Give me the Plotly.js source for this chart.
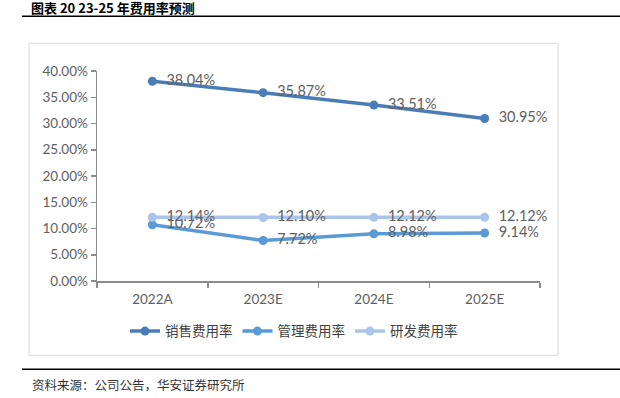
<!DOCTYPE html>
<html>
<head>
<meta charset="utf-8">
<script src="https://cdn.plot.ly/plotly-3.0.1.min.js"></script>
<style>html,body{margin:0;padding:0;background:#fff;}#chart{width:620px;height:398px;}</style>
</head>
<body>
<div id="chart"></div>
<script>
const categories = ['2022A', '2023E', '2024E', '2025E'];
const salesRate = [0.3804, 0.3587, 0.3351, 0.3095];
const mgmtRate = [0.1072, 0.0772, 0.0898, 0.0914];
const rdRate = [0.1214, 0.1210, 0.1212, 0.1212];
const seriesNames = ['销售费用率', '管理费用率', '研发费用率'];
const chartTitle = '图表 20 23-25 年费用率预测';
const sourceText = '资料来源：公司公告，华安证券研究所';

const colors = ['#4a7db8', '#5a9ad6', '#abc5ea'];
const labelFont = {family: 'Lato, "Open Sans", sans-serif', size: 14.5, color: '#606060'};

function series(y, name, color) {
  return {
    type: 'scatter', mode: 'lines+markers+text',
    x: categories, y: y, name: name,
    line: {color: color, width: 3.5},
    marker: {color: color, size: 9},
    texttemplate: '\u00a0\u00a0%{y:.2%}', textposition: 'middle right',
    textfont: labelFont,
    cliponaxis: false, hoverinfo: 'skip'
  };
}

const data = [
  series(salesRate, seriesNames[0], colors[0]),
  series(mgmtRate, seriesNames[1], colors[1]),
  series(rdRate, seriesNames[2], colors[2])
];

const L = 97, R = 540, T = 70.7, B = 280.7;
const W = R - L, H = B - T;
const px = x => (x - L) / W;
const py = y => (B - y) / H;

const axisFont = {family: 'Lato, "Open Sans", sans-serif', size: 13.5, color: '#606060'};

const layout = {
  width: 620, height: 398,
  margin: {l: L, r: 620 - R, t: T, b: 398 - B, pad: 0},
  paper_bgcolor: '#ffffff', plot_bgcolor: '#ffffff',
  showlegend: true,
  legend: {
    orientation: 'h', x: px(294), xanchor: 'center', y: py(331), yanchor: 'middle',
    font: {family: '"Noto Sans CJK SC", sans-serif', size: 13.5, color: '#404040'},
    itemwidth: 30, tracegroupgap: 0
  },
  xaxis: {
    type: 'category', range: [-0.5, 3.5], tickson: 'boundaries',
    showline: true, linecolor: '#8c8c8c', linewidth: 1.5,
    ticks: 'outside', ticklen: 5, tickcolor: '#8c8c8c', tickwidth: 1.5,
    ticklabelstandoff: 5,
    showgrid: false, zeroline: false,
    tickfont: axisFont
  },
  yaxis: {
    range: [0, 0.4], dtick: 0.05, tickformat: '.2%',
    showline: true, linecolor: '#8c8c8c', linewidth: 1.5,
    ticks: 'outside', ticklen: 5, tickcolor: '#8c8c8c', tickwidth: 1.5,
    showgrid: false, zeroline: false,
    tickfont: axisFont
  },
  shapes: [
    {type: 'rect', xref: 'paper', yref: 'paper', x0: px(29), x1: px(558), y0: py(355), y1: py(43),
     line: {color: '#d9d9d9', width: 1}, layer: 'below'},
    {type: 'line', xref: 'paper', yref: 'paper', x0: px(22), x1: px(620), y0: py(16), y1: py(16),
     line: {color: '#000000', width: 1.5}},
    {type: 'line', xref: 'paper', yref: 'paper', x0: px(22), x1: px(620), y0: py(369), y1: py(369),
     line: {color: '#000000', width: 1.5}}
  ],
  annotations: [
    {xref: 'paper', yref: 'paper', x: px(30), y: py(-3), xanchor: 'left', yanchor: 'top',
     text: '<b>' + chartTitle + '</b>', showarrow: false, borderpad: 0,
     font: {family: '"Noto Sans CJK SC", sans-serif', size: 13, color: '#000000'}},
    {xref: 'paper', yref: 'paper', x: px(30), y: py(384), xanchor: 'left', yanchor: 'middle',
     text: sourceText, showarrow: false,
     font: {family: '"Noto Sans CJK SC", sans-serif', size: 12.5, color: '#333333'}}
  ]
};

Plotly.newPlot('chart', data, layout, {displayModeBar: false, staticPlot: true});
</script>
</body>
</html>
